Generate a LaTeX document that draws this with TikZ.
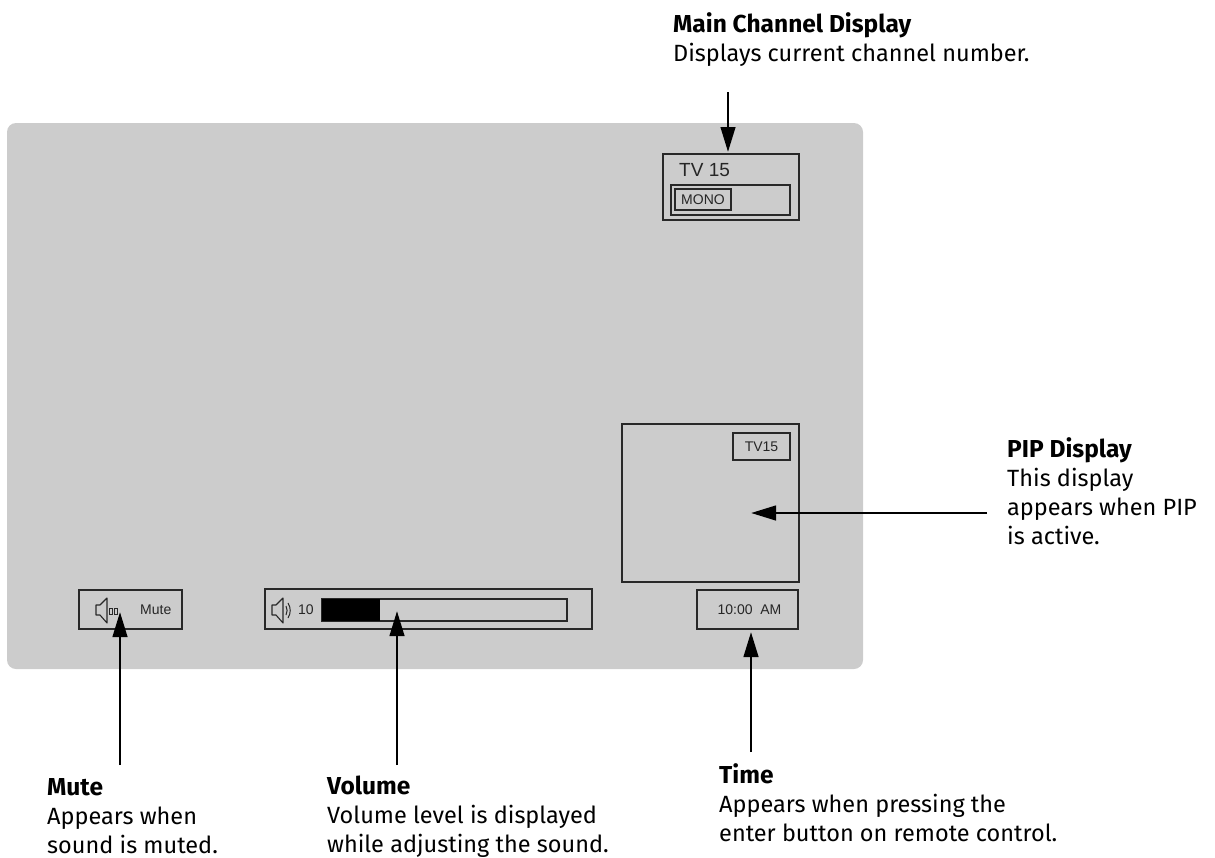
\documentclass[tikz,border=0pt]{standalone}
\usepackage{fontspec}
\setmainfont{Liberation Sans}
\newfontfamily\labelfont{Fira Sans}
\usetikzlibrary{arrows.meta}
\definecolor{panelgray}{RGB}{204,204,204}
\definecolor{boxline}{RGB}{40,40,40}
\newcommand{\headline}[1]{{\bfseries\fontsize{24.5}{29}\selectfont #1}}
\tikzset{
 x=1pt,y=-1pt,
 panel/.style={fill=panelgray,draw=none,rounded corners=9pt},
 osd/.style={draw=boxline,line width=1.05pt,fill=none},
 osdtext/.style={inner sep=0pt,text=black!85,font=\fontsize{14}{16}\selectfont},
 callout/.style={inner sep=0pt,anchor=base west,align=left,font=\labelfont\fontsize{23.5}{29}\selectfont},
 pointer/.style={line width=2.8pt,-{Triangle[length=25pt,width=14.5pt]}},
}
\begin{document}
\begin{tikzpicture}
\useasboundingbox (0,0) rectangle (1215,857);
\fill[panel] (7,123) rectangle (863,669);
% main channel
\node[osd,minimum width=136pt,minimum height=66pt,inner sep=0pt] (main) at (731,187) {};
\draw[osd] (671,185) rectangle (790,215);
\node[osd,minimum width=56pt,minimum height=21pt,inner sep=0pt,osdtext] (mono) at (703,199.5) {MONO};
\node[osdtext,anchor=west,font=\fontsize{19}{20}\selectfont] (tv) at (679,170) {TV 15};
% pip
\node[osd,minimum width=177pt,minimum height=158pt,inner sep=0pt] (pip) at (710.5,503) {};
\node[osd,minimum width=57pt,minimum height=27pt,inner sep=0pt,osdtext] (pipch) at (761.5,446.5) {TV15};
% time
\node[osd,minimum width=101pt,minimum height=39pt,inner sep=0pt] (time) at (747.5,609.5) {};
\node[osdtext] (timetxt) at (749.5,610) {10:00\ \ AM};
% mute
\node[osd,minimum width=103pt,minimum height=39pt,inner sep=0pt] (mute) at (130.5,609.5) {};
\node[osdtext,anchor=west] (mutetxt) at (140,610) {Mute};
\draw[boxline,line width=1.1pt,line join=round] (96,605) -- (100,605) -- (107,598) -- (107,623) -- (100,615) -- (96,615) -- cycle;
\draw[boxline,line width=.8pt] (109.5,608) rectangle (112.5,614) (114.5,608) rectangle (117.5,614);
% volume
\node[osd,minimum width=327pt,minimum height=40pt,inner sep=0pt] (vol) at (428.5,609) {};
\draw[boxline,line width=1.1pt,line join=round] (272,605) -- (276,605) -- (283,598) -- (283,623) -- (276,615) -- (272,615) -- cycle;
\draw[boxline,line width=1pt] (286,606) .. controls (287.5,609) and (287.5,612) .. (286,615);
\draw[boxline,line width=1pt] (288,603) .. controls (291,608) and (291,613) .. (288,618);
\node[osdtext,anchor=west] (volnum) at (298,610) {10};
\node[draw=boxline,line width=1.05pt,minimum width=245pt,minimum height=22pt,inner sep=0pt] (bar) at (444.5,610) {};
\fill[black] (322,599) rectangle (380,621);
% callouts
\node[callout] (lmain) at (673,61) {\headline{Main Channel Display}\\Displays current channel number.};
\node[callout] (lpip) at (1007,544) {\headline{PIP Display}\\This display\\appears when PIP\\is active.};
\node[callout] (lmute) at (47,853) {\headline{Mute}\\Appears when\\sound is muted.};
\node[callout] (lvol) at (327,852) {\headline{Volume}\\Volume level is displayed\\while adjusting the sound.};
\node[callout] (ltime) at (719,841) {\headline{Time}\\Appears when pressing the\\enter button on remote control.};
% connectors
\coordinate (a1) at (728,92); \coordinate (a1e) at (728,152);
\coordinate (a2) at (987,513); \coordinate (a2e) at (751,513);
\coordinate (a3) at (751,752); \coordinate (a3e) at (751,632);
\coordinate (a4) at (397,765); \coordinate (a4e) at (397,611);
\coordinate (a5) at (120,765); \coordinate (a5e) at (120,612);
\draw[pointer] (a1) -- (a1e);
\draw[pointer] (a2) -- (a2e);
\draw[pointer] (a3) -- (a3e);
\draw[pointer] (a4) -- (a4e);
\draw[pointer] (a5) -- (a5e);
\end{tikzpicture}
\end{document}
